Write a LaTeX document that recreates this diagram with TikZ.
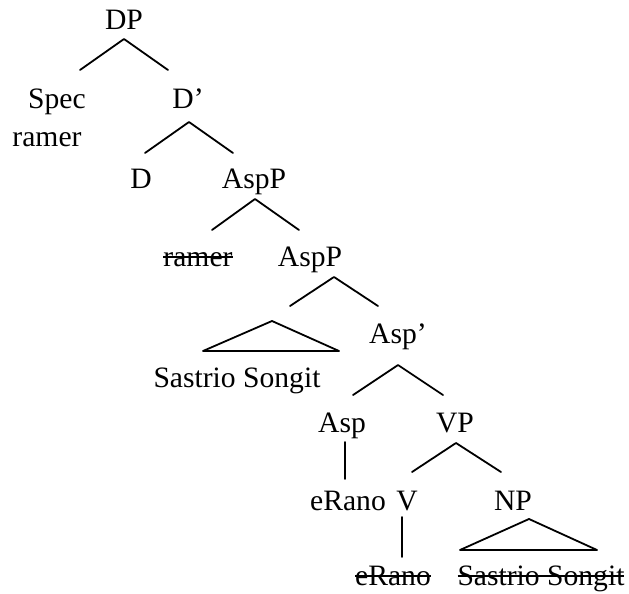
\documentclass[tikz,border=0pt]{standalone}
\usepackage{fontspec}
\setmainfont{Liberation Serif}
\newcommand\strk[1]{\setbox0\hbox{#1}\rlap{\rule[0.27em]{\wd0}{0.06em}}\box0}
\begin{document}
\begin{tikzpicture}[x=1pt,y=-1pt,
  lab/.style={anchor=base,inner sep=0pt,font=\fontsize{29.6}{34}\selectfont},
  br/.style={line width=1.8pt,line cap=round,line join=round}]
\useasboundingbox (0,0) rectangle (629,594);
% labels
\node[lab] (DP) at (124,30) {DP};
\node[lab] (Spec) at (57,108) {Spec};
\node[lab] (ramer) at (47,146) {ramer};
\node[lab] (Dbar) at (188,108) {D’};
\node[lab] (D) at (141,188) {D};
\node[lab] (AspP1) at (254,188) {AspP};
\node[lab] (ramer2) at (198,266) {\strk{ramer}};
\node[lab] (AspP2) at (310,266) {AspP};
\node[lab] (SS) at (237,387) {Sastrio Songit};
\node[lab] (Aspbar) at (398,343) {Asp’};
\node[lab] (Asp) at (342,432) {Asp};
\node[lab] (VP) at (455,432) {VP};
\node[lab] (eRano) at (348,510) {eRano};
\node[lab] (V) at (407,510) {V};
\node[lab] (NP) at (513,510) {NP};
\node[lab] (eRano2) at (393,585) {\strk{eRano}};
\node[lab] (SS2) at (541,585) {\strk{Sastrio Songit}};
% branch points
\coordinate (DPa) at (124,39);  \coordinate (DPl) at (80,70);  \coordinate (DPr) at (168,70);
\coordinate (Dba) at (189,122); \coordinate (Dbl) at (145,153); \coordinate (Dbr) at (233,153);
\coordinate (A1a) at (255,199); \coordinate (A1l) at (212,230); \coordinate (A1r) at (299,230);
\coordinate (A2a) at (334,277); \coordinate (A2l) at (290,306); \coordinate (A2r) at (378,306);
\coordinate (T1a) at (272,321); \coordinate (T1l) at (203,351); \coordinate (T1r) at (339,351);
\coordinate (Aba) at (398,365); \coordinate (Abl) at (353,395); \coordinate (Abr) at (443,395);
\coordinate (Asa) at (345,442); \coordinate (Asb) at (345,479);
\coordinate (VPa) at (456,443); \coordinate (VPl) at (412,472); \coordinate (VPr) at (501,472);
\coordinate (Va) at (402,517);  \coordinate (Vb) at (402,557);
\coordinate (T2a) at (529,519); \coordinate (T2l) at (460,550); \coordinate (T2r) at (597,550);
% branches
\draw[br] (DPl) -- (DPa) -- (DPr);
\draw[br] (Dbl) -- (Dba) -- (Dbr);
\draw[br] (A1l) -- (A1a) -- (A1r);
\draw[br] (A2l) -- (A2a) -- (A2r);
\draw[br] (T1l) -- (T1a) -- (T1r) -- cycle;
\draw[br] (Abl) -- (Aba) -- (Abr);
\draw[br] (Asa) -- (Asb);
\draw[br] (VPl) -- (VPa) -- (VPr);
\draw[br] (Va) -- (Vb);
\draw[br] (T2l) -- (T2a) -- (T2r) -- cycle;
\end{tikzpicture}
\end{document}
